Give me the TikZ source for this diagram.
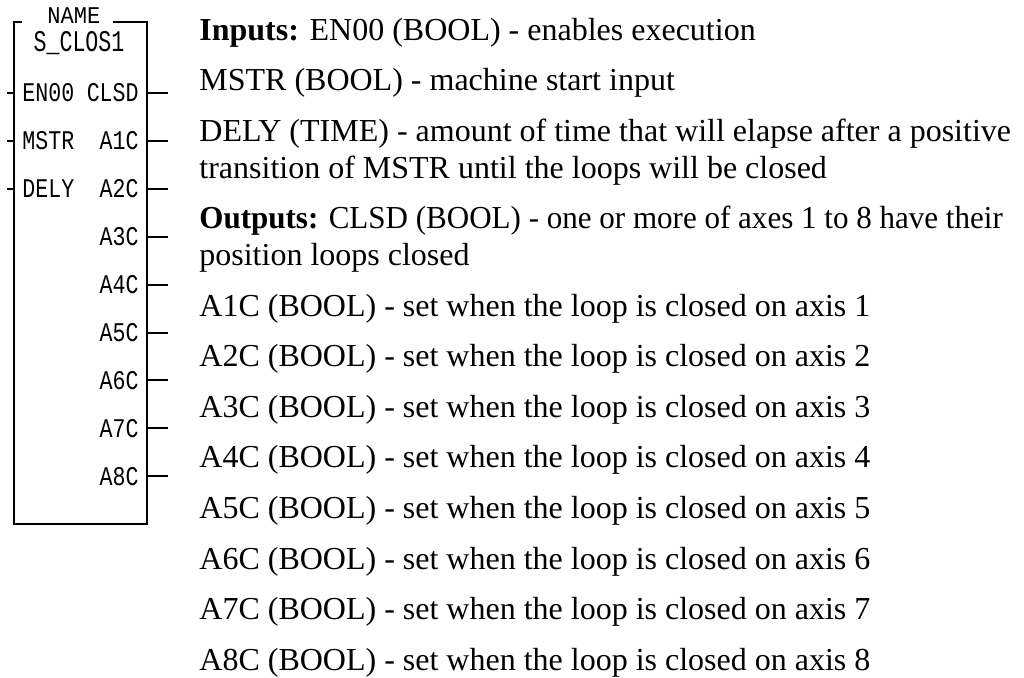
\documentclass[tikz,border=0pt]{standalone}
\usepackage{fontspec}
\setmainfont{Liberation Serif}
\newfontfamily\plcfont[FakeStretch=0.8]{Liberation Mono}
\newfontfamily\plcwide[FakeStretch=0.92]{Liberation Mono}
\newfontfamily\plcname[FakeStretch=0.72]{Liberation Mono}
\usetikzlibrary{positioning}
\tikzset{
  wire/.style={line width=1pt},
  pinlbl/.style={inner sep=0pt,font=\plcfont\fontsize{13.5}{13.5}\selectfont},
  desc/.style={inner sep=0pt,anchor=base west,font=\fontsize{16}{18.5}\selectfont}
}

\begin{document}
\begin{tikzpicture}[x=0.5pt,y=-0.5pt]
  \useasboundingbox[fill=white] (0,0) rectangle (1024,677);
  % block outline
  \coordinate (tl) at (14,22);
  \coordinate (tr) at (147,22);
  \coordinate (bl) at (14,524);
  \coordinate (br) at (147,524);
  \draw[wire] (22,22) -- (tl) -- (bl) -- (br) -- (tr) -- (113,22);
  \node[inner sep=0pt,anchor=base,font=\plcwide\fontsize{12}{12}\selectfont] (name) at (74,23) {NAME};
  \node[inner sep=0pt,font=\plcname\fontsize{15}{15}\selectfont] (blk) at (79,43) {S\_CLOS1};
  % pins
  \foreach \p [count=\i from 0] in {EN00,MSTR,DELY}
  {
    \node[pinlbl,anchor=west] (in\i) at (22,93+47.9*\i) {\p};
    \coordinate (inend\i) at (7,93+47.9*\i);
    \draw[wire] (inend\i) -- (tl|-in\i);
  }
  \foreach \p [count=\i from 0] in {CLSD,A1C,A2C,A3C,A4C,A5C,A6C,A7C,A8C}
  {
    \node[pinlbl,anchor=east] (out\i) at (139,93+47.9*\i) {\p};
    \coordinate (outend\i) at (168,93+47.9*\i);
    \draw[wire] (tr|-out\i) -- (outend\i);
  }
  % description
  \foreach \t/\y [count=\i] in {
    \textbf{Inputs:} EN00 (BOOL) - enables execution/40,
    MSTR (BOOL) - machine start input/90.6,
    DELY (TIME) - amount of time that will elapse after a positive/141.2,
    transition of MSTR until the loops will be closed/178,
    \addfontfeature{FakeStretch=0.97}\textbf{Outputs:} CLSD (BOOL) - one or more of axes 1 to 8 have their/228.6,
    position loops closed/265.5,
    A1C (BOOL) - set when the loop is closed on axis 1/316}
  {
    \node[desc] (d\i) at (199,\y) {\t};
  }
  \foreach \k [count=\i from 8] in {2,...,8}
  {
    \node[desc] (d\i) at (199,316+50.6*\k-50.6) {A\k C (BOOL) - set when the loop is closed on axis \k};
  }
\end{tikzpicture}
\end{document}
